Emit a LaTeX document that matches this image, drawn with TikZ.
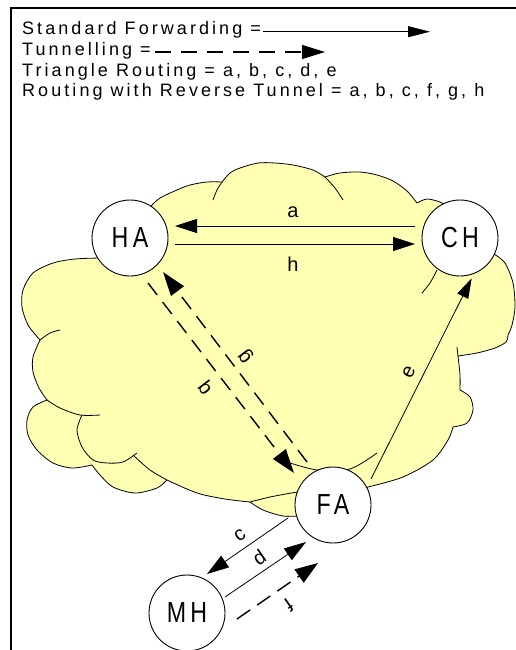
\documentclass[tikz,border=0pt]{standalone}
\usepackage{fontspec}
\setmainfont{Liberation Sans}
\newfontfamily\spacedfont[LetterSpace=17]{Liberation Sans}
\newfontfamily\narrowfont[FakeStretch=0.8,LetterSpace=15]{Liberation Sans}
\newfontfamily\labelfont{Liberation Sans}
\usetikzlibrary{arrows.meta,calc}
\definecolor{cloudfill}{RGB}{255,255,180}

\begin{document}
\begin{tikzpicture}[x=1pt,y=-1pt,
  station/.style={circle, draw, fill=white, line width=0.9pt, minimum size=76pt,
    inner sep=0pt, font=\narrowfont\fontsize{29}{29}\selectfont},
  legendtext/.style={anchor=base west, inner sep=0pt,
    font=\spacedfont\fontsize{18}{21}\selectfont},
  edgelabel/.style={inner sep=0pt, font=\labelfont\fontsize{20}{20}\selectfont},
  fwd/.style={line width=0.8pt, -{Triangle[length=22pt,width=14pt]}},
  tunnel/.style={line width=1.4pt, dash pattern=on 15pt off 9pt,
    -{Triangle[length=24pt,width=16pt]}},
  cloudline/.style={line width=0.8pt},
]
\useasboundingbox (0,0) rectangle (516,650);

% frame
\draw[line width=2pt] (11,651) -- (11,8) -- (517,8);

% legend
\node[legendtext] (l1) at (22,35) {Standard Forwarding =};
\node[legendtext] (l2) at (22,56) {Tunnelling =};
\node[legendtext] (l3) at (22,77) {Triangle Routing = a, b, c, d, e};
\node[legendtext] (l4) at (22,97) {Routing with Reverse Tunnel = a, b, c, f, g, h};
\coordinate (fwdStart) at (263,31.7);
\coordinate (fwdEnd) at (430,31.7);
\coordinate (tunStart) at (155,52);
\coordinate (tunEnd) at (325,52);
\draw[line width=0.8pt, -{Triangle[length=22pt,width=11pt]}] (fwdStart) -- (fwdEnd);
\draw[line width=1.4pt, dash pattern=on 16pt off 10pt,
  -{Triangle[length=23pt,width=14pt]}] (tunStart) -- (tunEnd);

% cloud body
\filldraw[fill=cloudfill, cloudline]
 (110,235) -- (100,258)
 -- plot[smooth] coordinates {(100,258) (75,259) (53,263) (33,273) (23,290) (22,307) (28,325) (40,340)}
 -- plot[smooth] coordinates {(40,340) (33,357) (33,372) (39,388) (47,400)}
 -- plot[smooth] coordinates {(47,400) (33,407) (27,420) (28,435) (37,450) (53,463) (72,468) (92,465)}
 -- plot[smooth] coordinates {(92,465) (100,475) (113,487) (135,493) (157,488) (167,480)}
 -- plot[smooth] coordinates {(167,480) (197,493) (225,499) (250,502)}
 -- plot[smooth] coordinates {(250,502) (263,510) (283,516) (300,516)}
 -- (340,500) -- (368,487)
 -- plot[smooth] coordinates {(368,487) (403,477) (433,460) (448,440) (453,427)}
 -- plot[smooth] coordinates {(453,427) (467,423) (473,410) (470,397) (460,390)}
 -- plot[smooth] coordinates {(460,390) (460,375) (458,356)}
 -- plot[smooth] coordinates {(458,356) (477,353) (495,348) (506,342) (508,335)}
 -- plot[smooth] coordinates {(508,335) (512,325) (515,307) (513,283) (505,263) (494,254)}
 -- (470,220) -- (445,205)
 -- plot[smooth] coordinates {(445,205) (440,202) (427,199) (417,203)}
 -- plot[smooth] coordinates {(417,203) (407,191) (393,181) (377,175) (360,172) (340,173) (325,177)}
 -- plot[smooth] coordinates {(325,177) (313,170) (293,165) (275,163) (258,163) (240,168) (230,173) (222,182)}
 -- plot[smooth] coordinates {(222,182) (207,182) (190,185) (177,190) (160,198) (150,207)}
 -- (140,215) -- cycle;

% inner lobe lines of the cloud
\draw[cloudline] plot[smooth] coordinates {(40,340) (50,333) (60,330)};
\draw[cloudline] plot[smooth] coordinates {(47,400) (60,408) (80,415) (100,415)};
\draw[cloudline] plot[smooth] coordinates {(82,415) (77,430) (82,447) (93,460) (107,463) (123,462) (137,453)};
\draw[cloudline] plot[smooth] coordinates {(133,455) (150,470) (167,480)};
\draw[cloudline] plot[smooth] coordinates {(250,502) (270,497) (297,492)};
\draw[cloudline] plot[smooth] coordinates {(287,462) (317,470) (350,469) (377,453)};
\draw[cloudline] plot[smooth] coordinates {(457,347) (458,356)};
\draw[cloudline] plot[smooth] coordinates {(422,293) (430,283) (437,270)};
\draw[cloudline] plot[smooth] coordinates {(222,182) (217,190) (213,200)};
\draw[cloudline] plot[smooth] coordinates {(325,177) (335,188) (343,200)};

% stations
\node[station] (HA) at (130,238) {HA};
\node[station] (CH) at (460,238) {CH};
\node[station] (FA) at (333,505) {FA};
\node[station] (MH) at (187,613) {MH};

% connectors
\draw[fwd] ([shift={(-45,-12)}]CH.center) -- ([shift={(45,-12)}]HA.center);
\draw[fwd] ([shift={(45,6)}]HA.center) -- ([shift={(-45,6)}]CH.center);
\draw[tunnel] ([shift={(18,45)}]HA.center) -- ([shift={(-39,-32)}]FA.center);
\draw[tunnel] ([shift={(-26,-43)}]FA.center) -- ([shift={(33,34)}]HA.center);
\draw[line width=0.8pt, -{Triangle[length=20pt,width=12pt]}]
  ([shift={(38,-26)}]FA.center) -- ([shift={(11.7,40.3)}]CH.center);
\draw[fwd] ([shift={(-45,13)}]FA.center) -- ([shift={(20,-39)}]MH.center);
\draw[fwd] ([shift={(38,-16)}]MH.center) -- ([shift={(-27,37)}]FA.center);
\draw[line width=1.4pt, dash pattern=on 16pt off 8.5pt, -{Triangle[length=23pt,width=16pt]}]
  ([shift={(50,6)}]MH.center) -- ([shift={(-15,58)}]FA.center);

% connector labels
\node[edgelabel] (la) at (293,212) {a};
\node[edgelabel] (lh) at (293,264) {h};
\node[edgelabel, rotate=-52.5] (lb) at (206,388) {b};
\node[edgelabel, rotate=127.5] (lg) at (246,356) {g};
\node[edgelabel, rotate=63.4] (le) at (409,372) {e};
\node[edgelabel, rotate=34.7] (lc) at (240,535) {c};
\node[edgelabel, rotate=34.7] (ld) at (259,557) {d};
\node[edgelabel, rotate=214.7] (lf) at (289,605) {f};
\end{tikzpicture}
\end{document}
